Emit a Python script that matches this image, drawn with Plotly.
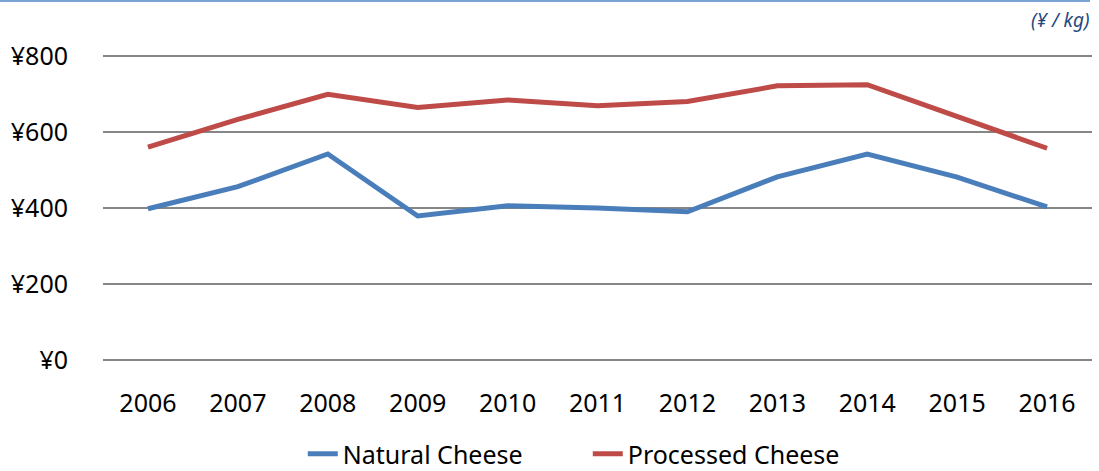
import plotly.graph_objects as go

# Annual average retail price of cheese in Japan (yen per kg)
years = ["2006", "2007", "2008", "2009", "2010", "2011", "2012", "2013", "2014", "2015", "2016"]
natural_cheese = [398, 456, 542, 379, 406, 400, 390, 482, 542, 481, 403]
processed_cheese = [560, 633, 699, 664, 684, 669, 680, 721, 724, 640, 557]
y_ticks = [0, 200, 400, 600, 800]
y_tick_labels = ["¥0", "¥200", "¥400", "¥600", "¥800"]

FONT = "Noto Sans"

fig = go.Figure()
fig.add_trace(go.Scatter(
    x=years, y=natural_cheese, name="Natural Cheese", mode="lines",
    line=dict(color="#4A7EBB", width=5),
))
fig.add_trace(go.Scatter(
    x=years, y=processed_cheese, name="Processed Cheese", mode="lines",
    line=dict(color="#BE4B48", width=5),
))

fig.update_layout(
    width=1099, height=471,
    margin=dict(l=103, r=7, t=52, b=107, autoexpand=False),
    paper_bgcolor="white", plot_bgcolor="white",
    font=dict(family=FONT, size=25, color="black"),
    showlegend=True,
    legend=dict(
        orientation="h", x=0.202, xanchor="left", y=-0.215, yanchor="top",
        font=dict(family=FONT, size=25, color="black"),
        tracegroupgap=0, entrywidth=240, entrywidthmode="pixels",
        borderwidth=0,
    ),
    xaxis=dict(
        type="category", range=[-0.5, 10.5], automargin=False,
        showgrid=False, zeroline=False, showline=False,
        ticks="", ticklabelstandoff=22,
        tickfont=dict(family=FONT, size=25, color="black"),
    ),
    yaxis=dict(
        range=[-10, 810], tickvals=y_ticks, ticktext=y_tick_labels, automargin=False,
        showgrid=True, gridcolor="#868686", gridwidth=2,
        zeroline=False, showline=False, ticks="", ticklabelstandoff=34,
        tickfont=dict(family=FONT, size=25, color="black"),
    ),
    annotations=[dict(
        text="<i>(¥ / kg)</i>", xref="paper", yref="paper",
        x=1.0, y=1.0, yshift=32, xanchor="right", yanchor="middle",
        showarrow=False, font=dict(family=FONT, size=19, color="#1F497D"),
    )],
    shapes=[dict(
        type="line", xref="paper", yref="paper",
        xsizemode="pixel", xanchor=0, x0=-103, x1=987,
        ysizemode="pixel", yanchor=1, y0=51, y1=51,
        line=dict(color="#7BA4D6", width=2),
    )],
)

fig.write_html("out.html")
